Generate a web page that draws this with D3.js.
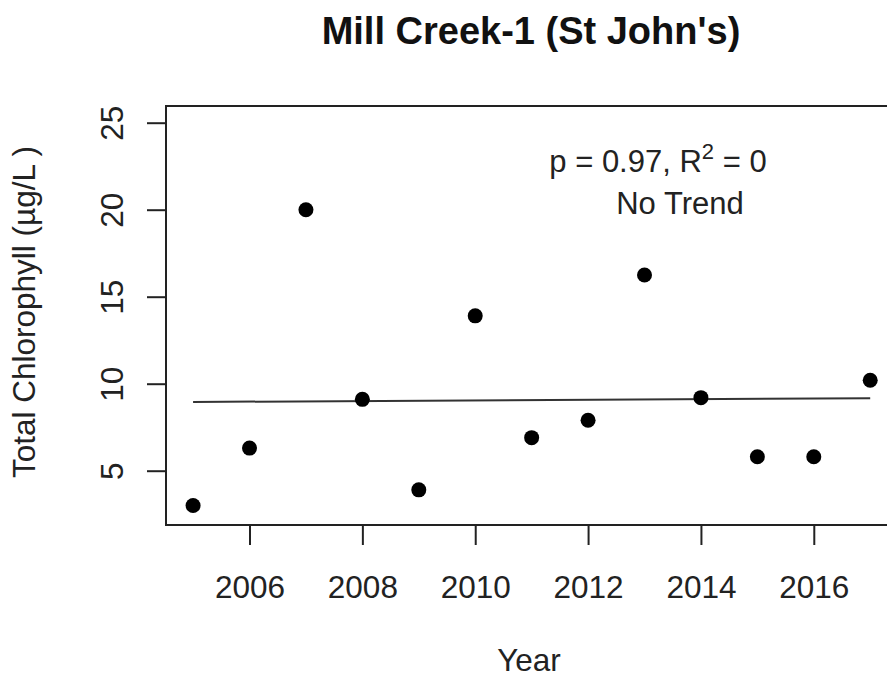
<!DOCTYPE html>
<html>
<head>
<meta charset="utf-8">
<script src="https://cdnjs.cloudflare.com/ajax/libs/d3/7.8.5/d3.min.js"></script>
<style>
  body { margin: 0; background: #fff; }
  svg { font-family: "Liberation Sans", Arial, sans-serif; }
</style>
</head>
<body>
<div id="chart"></div>
<script>
var years = [2005, 2006, 2007, 2008, 2009, 2010, 2011, 2012, 2013, 2014, 2015, 2016, 2017];
var chlorophyll = [3.0, 6.3, 20.0, 9.1, 3.9, 13.9, 6.9, 7.9, 16.25, 9.2, 5.8, 5.8, 10.2];
var trendYears = [2005, 2017];
var trendValues = [8.95, 9.17];
var xTicks = [2006, 2008, 2010, 2012, 2014, 2016];
var yTicks = [5, 10, 15, 20, 25];

var width = 887,
    height = 679;

var svg = d3.select("#chart").append("svg")
    .attr("width", width)
    .attr("height", height);

// R style: 4% padding on each side of the range
var x = d3.scaleLinear().domain([2004.52, 2017.48]).range([166, 897.3]);
var y = d3.scaleLinear().domain([1.88, 25.96]).range([525, 106]);

var ink = "#222";

// title
svg.append("text")
    .attr("x", 531)
    .attr("y", 44)
    .attr("text-anchor", "middle")
    .attr("font-size", 38)
    .attr("font-weight", "bold")
    .attr("fill", "#111")
    .text("Mill Creek-1 (St John's)");

// box
svg.append("rect")
    .attr("x", x.range()[0])
    .attr("y", y.range()[1])
    .attr("width", x.range()[1] - x.range()[0])
    .attr("height", y.range()[0] - y.range()[1])
    .attr("fill", "none")
    .attr("stroke", ink)
    .attr("stroke-width", 2);

// x axis
var xAxis = svg.append("g")
    .attr("transform", "translate(0," + y.range()[0] + ")")
    .call(d3.axisBottom(x).tickValues(xTicks).tickSize(20).tickFormat(d3.format("d")));
xAxis.select(".domain").remove();
xAxis.selectAll("line").attr("stroke", ink).attr("stroke-width", 2);
xAxis.selectAll("text")
    .attr("y", 73)
    .attr("dy", null)
    .attr("font-size", 31.5)
    .attr("font-family", "Liberation Sans, Arial, sans-serif")
    .attr("fill", "#222");

// y axis
var yAxis = svg.append("g")
    .attr("transform", "translate(" + x.range()[0] + ",0)")
    .call(d3.axisLeft(y).tickValues(yTicks).tickSize(19));
yAxis.select(".domain").remove();
yAxis.selectAll("line").attr("stroke", ink).attr("stroke-width", 2);
yAxis.selectAll("text")
    .attr("x", null)
    .attr("dy", null)
    .attr("transform", "translate(-43,0) rotate(-90)")
    .attr("text-anchor", "middle")
    .attr("font-size", 31.5)
    .attr("font-family", "Liberation Sans, Arial, sans-serif")
    .attr("fill", "#222");

// axis titles
svg.append("text")
    .attr("x", 529)
    .attr("y", 671)
    .attr("text-anchor", "middle")
    .attr("font-size", 31.5)
    .attr("fill", "#222")
    .text("Year");

svg.append("text")
    .attr("transform", "translate(35,312) rotate(-90)")
    .attr("text-anchor", "middle")
    .attr("font-size", 31.5)
    .attr("fill", "#222")
    .text("Total Chlorophyll (\u00b5g/L )");

// trend line
var line = d3.line()
    .x(function(d, i) { return x(trendYears[i]); })
    .y(function(d) { return y(d); });

svg.append("path")
    .datum(trendValues)
    .attr("d", line)
    .attr("fill", "none")
    .attr("stroke", "#333")
    .attr("stroke-width", 2);

// points
svg.append("g")
    .selectAll("circle")
    .data(chlorophyll)
    .enter().append("circle")
    .attr("cx", function(d, i) { return x(years[i]); })
    .attr("cy", function(d) { return y(d); })
    .attr("r", 7.5)
    .attr("fill", "#000");

// annotation
var note = svg.append("text")
    .attr("x", 658)
    .attr("y", 172)
    .attr("text-anchor", "middle")
    .attr("font-size", 31)
    .attr("fill", "#222");
note.append("tspan").text("p = 0.97, R");
note.append("tspan").attr("dy", -13).attr("font-size", 22).text("2");
note.append("tspan").attr("dy", 13).text(" = 0");

svg.append("text")
    .attr("x", 680)
    .attr("y", 214)
    .attr("text-anchor", "middle")
    .attr("font-size", 31)
    .attr("fill", "#222")
    .text("No Trend");
</script>
</body>
</html>
